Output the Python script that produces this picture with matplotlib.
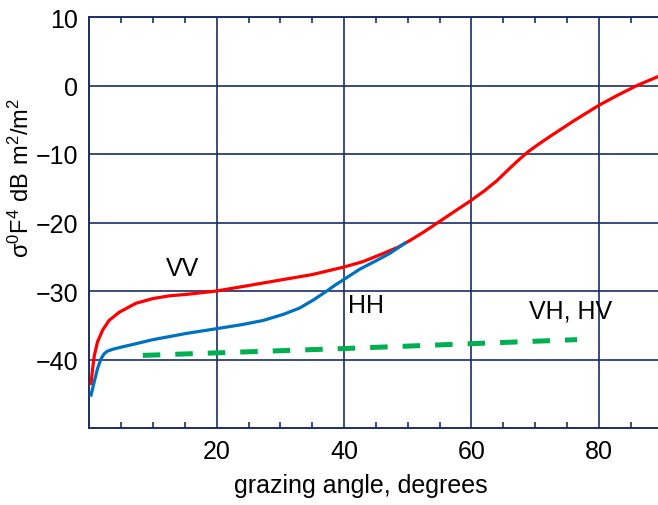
import numpy as np
import matplotlib
matplotlib.use("Agg")
from matplotlib import pyplot as plt
from matplotlib.ticker import MultipleLocator

# VV (red)
vv_x = [0.27, 0.53, 0.79, 1.3, 2.1, 3.1, 4.7, 7.3, 10.0, 12.6, 15.2, 20.0, 25.0, 30.0, 35.0, 40.0,
        43.0, 46.2, 48.5, 50.4, 52.5, 54.6, 57.0, 59.6, 62.0, 64.0, 66.0, 67.5, 69.0, 70.5, 72.4, 76.0,
        80.0, 83.0, 86.0, 89.3]
vv_y = [-43.5, -41.3, -39.4, -37.4, -35.7, -34.3, -33.1, -31.8, -31.1, -30.7, -30.5, -30.0, -29.2, -28.4, -27.6, -26.5,
        -25.7, -24.5, -23.6, -22.6, -21.4, -20.1, -18.6, -17.0, -15.4, -13.9, -12.1, -10.8, -9.6, -8.6, -7.4, -5.2,
        -2.9, -1.4, 0.0, 1.3]

# HH (blue)
hh_x = [0.27, 0.79, 1.3, 1.84, 2.3, 2.8, 3.7, 5.0, 7.3, 10.0, 15.2, 20.0, 24.0, 27.3, 30.5, 33.0, 35.2, 37.3,
        38.5, 40.0, 42.5, 45.0, 47.2, 49.6]
hh_y = [-45.2, -43.2, -41.3, -39.9, -39.2, -38.8, -38.5, -38.2, -37.7, -37.1, -36.2, -35.5, -34.9, -34.3, -33.4, -32.5, -31.3, -30.0,
        -29.2, -28.3, -26.8, -25.6, -24.5, -23.0]

# VH, HV (green dashed)
vh_x = [8.4, 40.0, 76.6]
vh_y = [-39.4, -38.4, -37.1]

grid_col = '#1a2f66'
plt.rcParams['font.family'] = ['Liberation Sans', 'DejaVu Sans']
plt.rcParams['mathtext.fontset'] = 'custom'
plt.rcParams['mathtext.rm'] = 'Liberation Sans'

fig = plt.figure(figsize=(6.58, 5.06), dpi=100)
ax = fig.add_axes([89.3 / 658, 77 / 506, 568.7 / 658, 411 / 506])

ax.plot(vv_x, vv_y, color='#ff0000', lw=2.3, solid_joinstyle='round', zorder=3)
ax.plot(hh_x, hh_y, color='#0070c0', lw=2.3, solid_joinstyle='round', zorder=3)
ax.plot(vh_x, vh_y, color='#00b050', lw=3.6, dashes=(3.5, 3.0), zorder=3)

ax.text(14.7, -26.6, 'VV', fontsize=18, ha='center', va='center')
ax.text(43.4, -32.0, 'HH', fontsize=18, ha='center', va='center')
ax.text(75.5, -32.9, 'VH, HV', fontsize=18, ha='center', va='center')

ax.set_xlim(0, 89.3)
ax.set_ylim(-50, 10)
ax.set_xticks([20, 40, 60, 80])
ax.xaxis.set_minor_locator(MultipleLocator(5))
ax.set_yticks([-40, -30, -20, -10, 0, 10])
ax.grid(True, which='major', color=grid_col, lw=1.2, zorder=1)

ax.tick_params(which='major', length=0, labelsize=18, pad=8)
ax.tick_params(which='minor', axis='x', direction='in', length=4, width=1.2,
               color=grid_col, top=True, bottom=True)

for side in ['left', 'bottom', 'top']:
    ax.spines[side].set_color(grid_col)
    ax.spines[side].set_linewidth(1.4)
ax.spines['right'].set_visible(False)

ax.set_xlabel('grazing angle, degrees', fontsize=18)
ax.xaxis.set_label_coords(0.478, -0.11)
ax.set_ylabel(r'$\mathregular{\sigma^0F^4\ dB\ m^2/m^2}$', fontsize=17, va='center')
ax.yaxis.set_label_coords(-0.119, 0.611)

plt.savefig('out.png', dpi=100)
